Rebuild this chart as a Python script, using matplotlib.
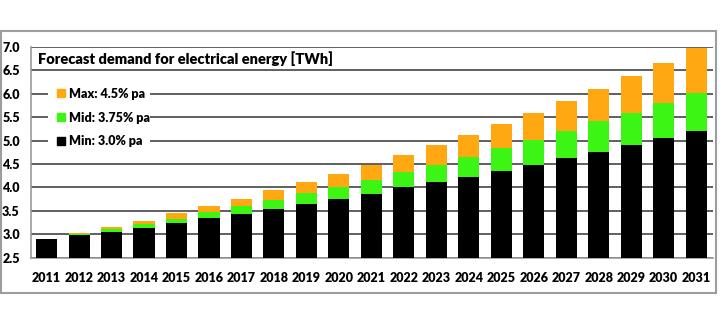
import matplotlib.pyplot as plt
from matplotlib.patches import Rectangle
import numpy as np

years = [str(y) for y in range(2011, 2032)]
min_vals = [2.90, 2.99, 3.05, 3.14, 3.24, 3.35, 3.44, 3.54, 3.65, 3.76, 3.87,
            4.00, 4.11, 4.23, 4.36, 4.49, 4.63, 4.76, 4.91, 5.06, 5.21]
mid_vals = [2.90, 3.01, 3.11, 3.21, 3.33, 3.47, 3.60, 3.74, 3.88, 4.02, 4.17,
            4.33, 4.49, 4.66, 4.84, 5.01, 5.21, 5.41, 5.60, 5.81, 6.02]
max_vals = [2.90, 3.03, 3.16, 3.29, 3.45, 3.61, 3.76, 3.94, 4.11, 4.28, 4.47,
            4.69, 4.90, 5.13, 5.35, 5.60, 5.84, 6.11, 6.38, 6.66, 6.97]
labels = ["Max: 4.5% pa", "Mid: 3.75% pa", "Min: 3.0% pa"]
colors = ["#FFA812", "#3CF514", "#000000"]
title = "Forecast demand for electrical energy [TWh]"

plt.rcParams['font.family'] = ['Lato', 'DejaVu Sans']

fig = plt.figure(figsize=(7.2, 3.26), dpi=100)
# outer frame
fig.patches.append(Rectangle((1 / 720, 1 - 293 / 326), 715 / 720, 262 / 326,
                             transform=fig.transFigure, fill=False,
                             edgecolor="#9a9ea2", linewidth=1.5))

ax = fig.add_axes([31 / 720, 1 - 257.7 / 326, 682 / 720, 210.7 / 326])
x = np.arange(len(years))
w = 0.65
# draw the layers on top of each other (totals)
for vals, c in zip([max_vals, mid_vals, min_vals], colors):
    ax.bar(x, vals, width=w, color=c, zorder=3)

ax.set_ylim(2.5, 7.0)
ax.set_xlim(-0.48, 20.52)
ax.set_yticks(np.arange(2.5, 7.01, 0.5))
ax.set_yticklabels([f"{v:.1f}" for v in np.arange(2.5, 7.01, 0.5)],
                   fontsize=9, fontweight="heavy")
ax.set_xticks(x)
ax.set_xticklabels(years, fontsize=9, fontweight="heavy")
ax.tick_params(length=0, pad=10)
ax.tick_params(axis="y", pad=8)
ax.grid(axis="y", color="#444444", linewidth=1.2, zorder=1)
for s in ["top", "right"]:
    ax.spines[s].set_visible(False)
for s in ["left", "bottom"]:
    ax.spines[s].set_color("#999999")
    ax.spines[s].set_linewidth(1.2)

ax.text(0.01, 0.945, title, transform=ax.transAxes, fontsize=10.5,
        fontweight="heavy", va="center", ha="left", zorder=5)

# legend area hides the gridlines
ax.add_patch(Rectangle((17 / 682, 0.55), 102 / 682, 0.32,
                       transform=ax.transAxes, facecolor="white",
                       edgecolor="none", zorder=2))
handles = [Rectangle((0, 0), 1, 1, color=c) for c in colors]
leg = ax.legend(handles, labels, loc="upper left",
                bbox_to_anchor=(0.022, 0.86), frameon=False,
                prop={"weight": "heavy", "size": 9}, handlelength=0.6,
                handleheight=0.6, handletextpad=0.3, labelspacing=0.95)

fig.savefig("out.png", dpi=100)
